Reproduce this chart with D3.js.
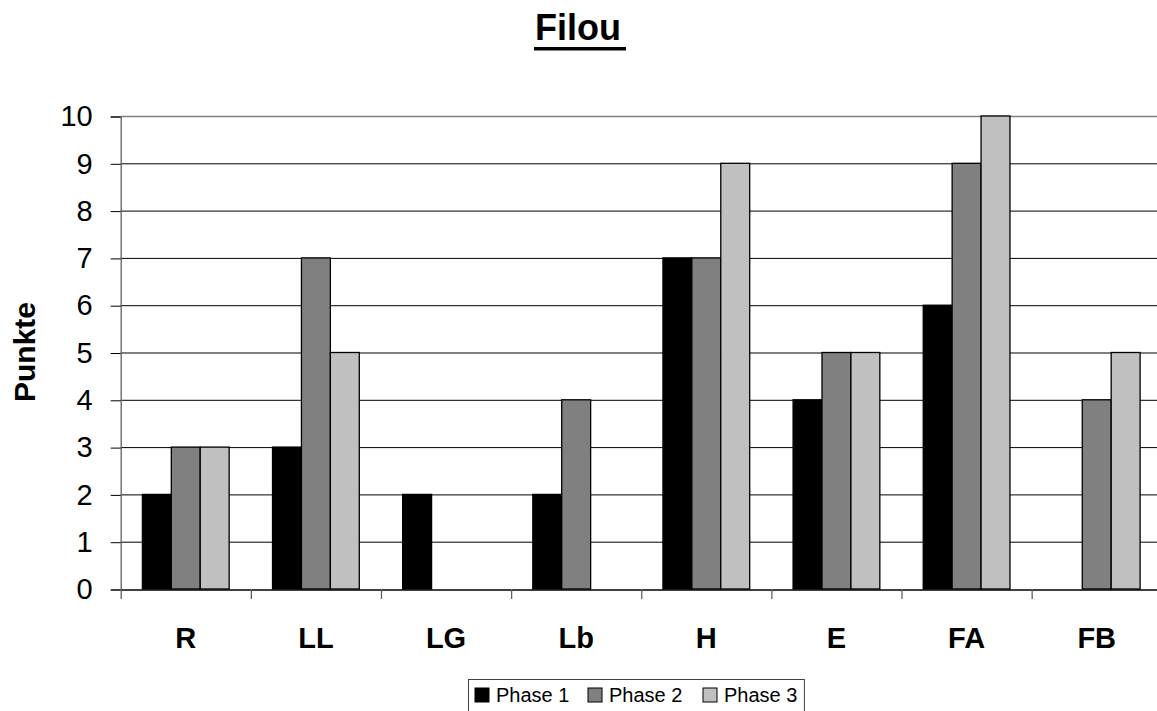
<!DOCTYPE html>
<html>
<head>
<meta charset="utf-8">
<script src="https://cdn.jsdelivr.net/npm/d3@7"></script>
<style>
  html, body { margin: 0; padding: 0; background: #fff; }
  svg { display: block; font-family: Arial, "Liberation Sans", sans-serif; }
</style>
</head>
<body>
<svg id="chart" width="1157" height="711"></svg>
<script>
// Scores per category for each phase
const categories = ["R", "LL", "LG", "Lb", "H", "E", "FA", "FB"];
const seriesNames = ["Phase 1", "Phase 2", "Phase 3"];
const phase1 = [2, 3, 2, 2, 7, 4, 6, 0];
const phase2 = [3, 7, 0, 4, 7, 5, 9, 4];
const phase3 = [3, 5, 0, 0, 9, 5, 10, 5];
const yTicks = [0, 1, 2, 3, 4, 5, 6, 7, 8, 9, 10];
const seriesColors = ["#000000", "#808080", "#c0c0c0"];

const seriesValues = [phase1, phase2, phase3];

const svg = d3.select("#chart");

const plot = { left: 120.7, right: 1161.8, top: 116, bottom: 589 };

const x = d3.scaleBand()
  .domain(categories)
  .range([plot.left, plot.right])
  .paddingInner(0)
  .paddingOuter(0);

const xInner = d3.scaleBand()
  .domain(seriesNames)
  .range([0, x.bandwidth()])
  .paddingInner(0)
  .paddingOuter(0.75);

const y = d3.scaleLinear()
  .domain([0, 10])
  .range([plot.bottom, plot.top]);

const color = d3.scaleOrdinal().domain(seriesNames).range(seriesColors);

// Horizontal gridlines
svg.append("g")
  .selectAll("line")
  .data(yTicks.filter(t => t > 0 && t < 10))
  .join("line")
  .attr("x1", plot.left)
  .attr("x2", plot.right)
  .attr("y1", d => y(d) + 0.5)
  .attr("y2", d => y(d) + 0.5)
  .attr("stroke", "#000")
  .attr("stroke-width", 1);

// Plot border top
svg.append("line")
  .attr("x1", plot.left).attr("x2", plot.right)
  .attr("y1", y(10) + 0.5).attr("y2", y(10) + 0.5)
  .attr("stroke", "#808080").attr("stroke-width", 1.5);

// Bars
const rows = categories.map((c, i) => ({
  category: c,
  values: seriesNames.map((s, j) => ({ series: s, value: seriesValues[j][i] }))
}));

svg.append("g")
  .selectAll("g")
  .data(rows)
  .join("g")
  .attr("transform", d => `translate(${x(d.category)},0)`)
  .selectAll("rect")
  .data(d => d.values.filter(v => v.value > 0))
  .join("rect")
  .attr("x", d => xInner(d.series))
  .attr("width", xInner.bandwidth())
  .attr("y", d => y(d.value))
  .attr("height", d => y(0) - y(d.value))
  .attr("fill", d => color(d.series))
  .attr("stroke", "#000")
  .attr("stroke-width", 1.3);

// Y axis
const yAxis = d3.axisLeft(y)
  .tickValues(yTicks)
  .tickSize(10)
  .tickPadding(18)
  .tickFormat(d3.format("d"));

const yg = svg.append("g")
  .attr("transform", `translate(${plot.left},0.5)`)
  .call(yAxis);
yg.select(".domain").attr("stroke", "#606060").attr("stroke-width", 1.3);
yg.selectAll(".tick line").attr("stroke", "#000");
yg.selectAll(".tick text")
  .attr("font-size", 29)
  .attr("fill", "#000")
  .attr("font-family", "Arial, 'Liberation Sans', sans-serif");

// X axis
const xAxis = d3.axisBottom(x).tickSize(0).tickPadding(38);
const xg = svg.append("g")
  .attr("transform", `translate(0,${plot.bottom + 0.5})`)
  .call(xAxis);
xg.select(".domain").attr("stroke", "#000").attr("stroke-width", 1.3);
xg.selectAll(".tick text")
  .attr("font-size", 29)
  .attr("font-weight", "bold")
  .attr("fill", "#000")
  .attr("font-family", "Arial, 'Liberation Sans', sans-serif");

// Category separator ticks
svg.append("g")
  .selectAll("line")
  .data(categories)
  .join("line")
  .attr("x1", d => x(d) + 0.5)
  .attr("x2", d => x(d) + 0.5)
  .attr("y1", plot.bottom)
  .attr("y2", plot.bottom + 10)
  .attr("stroke", "#606060")
  .attr("stroke-width", 1.3);

// Y axis title
svg.append("text")
  .attr("transform", `translate(35,352) rotate(-90)`)
  .attr("text-anchor", "middle")
  .attr("font-size", 30)
  .attr("font-weight", "bold")
  .text("Punkte");

// Chart title with underline
const title = svg.append("text")
  .attr("x", 578)
  .attr("y", 40)
  .attr("text-anchor", "middle")
  .attr("font-size", 36)
  .attr("font-weight", "bold")
  .text("Filou");
const tb = title.node().getBBox();
svg.append("rect")
  .attr("x", tb.x - 1)
  .attr("y", 47)
  .attr("width", tb.width + 6)
  .attr("height", 3.5)
  .attr("fill", "#000");

// Legend
const legend = svg.append("g");
const legendBox = legend.append("rect")
  .attr("x", 468.5).attr("y", 679.5)
  .attr("height", 45)
  .attr("fill", "#fff")
  .attr("stroke", "#404040")
  .attr("stroke-width", 1);

const legendX = [475, 588, 703];
const items = legend.selectAll("g.item")
  .data(seriesNames)
  .join("g")
  .attr("class", "item")
  .attr("transform", (d, i) => `translate(${legendX[i]},688)`);
items.append("rect")
  .attr("width", 14).attr("height", 14)
  .attr("fill", d => color(d))
  .attr("stroke", "#000").attr("stroke-width", 1);
items.append("text")
  .attr("x", 21)
  .attr("y", 13.5)
  .attr("font-size", 20)
  .attr("fill", "#000")
  .text(d => d);

// Fit the legend frame around its entries
const lb = legend.selectAll("g.item").nodes().map(n => n.getBBox());
const lastItem = lb[lb.length - 1];
legendBox.attr("width", legendX[legendX.length - 1] + lastItem.width + 7 - 468.5);
</script>
</body>
</html>
